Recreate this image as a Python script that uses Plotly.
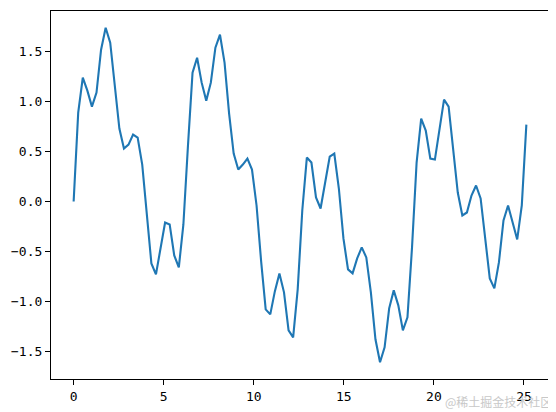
import plotly.graph_objects as go

x_values = [0.0, 0.254, 0.508, 0.762, 1.015, 1.269, 1.523, 1.777, 2.031, 2.285,
            2.539, 2.793, 3.046, 3.300, 3.554, 3.808, 4.062, 4.316, 4.570, 4.823,
            5.077, 5.331, 5.585, 5.839, 6.093, 6.347, 6.601, 6.854, 7.108, 7.362,
            7.616, 7.870, 8.124, 8.378, 8.631, 8.885, 9.139, 9.393, 9.647, 9.901,
            10.155, 10.409, 10.662, 10.916, 11.170, 11.424, 11.678, 11.932, 12.186, 12.439,
            12.693, 12.947, 13.201, 13.455, 13.709, 13.963, 14.217, 14.470, 14.724, 14.978,
            15.232, 15.486, 15.740, 15.994, 16.247, 16.501, 16.755, 17.009, 17.263, 17.517,
            17.771, 18.024, 18.278, 18.532, 18.786, 19.040, 19.294, 19.548, 19.802, 20.055,
            20.309, 20.563, 20.817, 21.071, 21.325, 21.579, 21.832, 22.086, 22.340, 22.594,
            22.848, 23.102, 23.356, 23.609, 23.863, 24.117, 24.371, 24.625, 24.879, 25.133]

y_values = [0.00, 0.89, 1.24, 1.11, 0.95, 1.09, 1.52, 1.74, 1.59, 1.16,
            0.73, 0.53, 0.57, 0.67, 0.64, 0.37, -0.12, -0.62, -0.73, -0.47,
            -0.21, -0.23, -0.54, -0.66, -0.23, 0.56, 1.29, 1.44, 1.19, 1.01,
            1.19, 1.54, 1.67, 1.39, 0.88, 0.48, 0.32, 0.37, 0.43, 0.32,
            -0.04, -0.60, -1.08, -1.13, -0.90, -0.72, -0.91, -1.29, -1.36, -0.88,
            -0.09, 0.44, 0.39, 0.04, -0.07, 0.19, 0.45, 0.48, 0.13, -0.37,
            -0.68, -0.72, -0.57, -0.46, -0.56, -0.91, -1.38, -1.61, -1.46, -1.07,
            -0.89, -1.04, -1.29, -1.16, -0.46, 0.39, 0.83, 0.71, 0.43, 0.42,
            0.73, 1.02, 0.95, 0.53, 0.09, -0.14, -0.11, 0.06, 0.16, 0.03,
            -0.37, -0.77, -0.87, -0.61, -0.19, -0.04, -0.21, -0.38, -0.04, 0.77]

x_ticks = [0, 5, 10, 15, 20, 25]
x_tick_labels = ["0", "5", "10", "15", "20", "25"]
y_ticks = [-1.5, -1.0, -0.5, 0.0, 0.5, 1.0, 1.5]
y_tick_labels = ["\u22121.5", "\u22121.0", "\u22120.5", "0.0", "0.5", "1.0", "1.5"]
watermark = "@稀土掘金技术社区"

def padded(vals, frac=0.05):
    lo, hi = min(vals), max(vals)
    span = hi - lo
    return [lo - frac * span, hi + frac * span]

fig = go.Figure()
fig.add_trace(go.Scatter(x=x_values, y=y_values, mode="lines",
                         line=dict(color="#1f77b4", width=2.1),
                         showlegend=False))

axis_common = dict(showgrid=False, zeroline=False, showline=True, mirror=True,
                   linecolor="black", linewidth=1.1, ticks="outside",
                   ticklen=5, tickwidth=1.1, tickcolor="black",
                   tickfont=dict(family="DejaVu Sans Mono", size=13, color="black"))

# the page body adds an 8px offset, so margins are trimmed to compensate
fig.update_layout(
    width=556, height=412,
    margin=dict(l=43, r=15, t=3, b=41),
    paper_bgcolor="white", plot_bgcolor="white",
    xaxis=dict(range=padded(x_values), tickvals=x_ticks, ticktext=x_tick_labels, **axis_common),
    yaxis=dict(range=padded(y_values), tickvals=y_ticks, ticktext=y_tick_labels, **axis_common),
    annotations=[dict(text=watermark, xref="paper", yref="paper", x=1.01, y=-0.062,
                      xanchor="right", yanchor="middle", showarrow=False,
                      font=dict(family="Noto Sans CJK SC", size=12, color="#c8c8c8"))],
)

fig.write_html("out.html")
